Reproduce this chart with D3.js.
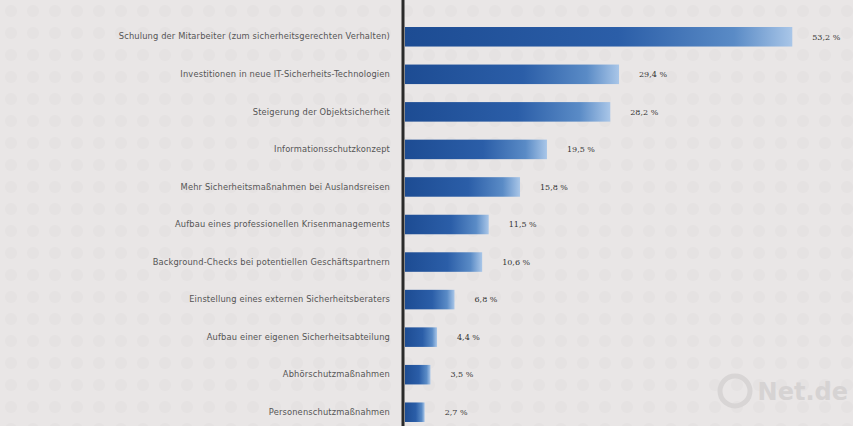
<!DOCTYPE html>
<html><head><meta charset="utf-8">
<script src="https://cdn.jsdelivr.net/npm/d3@7"></script>
<style>html,body{margin:0;padding:0;background:#e8e5e5;}svg{display:block;}</style>
</head><body>
<svg id="chart" width="853" height="426"></svg>
<script>
const categories = [
  "Schulung der Mitarbeiter (zum sicherheitsgerechten Verhalten)",
  "Investitionen in neue IT-Sicherheits-Technologien",
  "Steigerung der Objektsicherheit",
  "Informationsschutzkonzept",
  "Mehr Sicherheitsmaßnahmen bei Auslandsreisen",
  "Aufbau eines professionellen Krisenmanagements",
  "Background-Checks bei potentiellen Geschäftspartnern",
  "Einstellung eines externen Sicherheitsberaters",
  "Aufbau einer eigenen Sicherheitsabteilung",
  "Abhörschutzmaßnahmen",
  "Personenschutzmaßnahmen"
];
const values = [53.2, 29.4, 28.2, 19.5, 15.8, 11.5, 10.6, 6.8, 4.4, 3.5, 2.7];
const valueLabels = ["53,2 %", "29,4 %", "28,2 %", "19,5 %", "15,8 %", "11,5 %", "10,6 %", "6,8 %", "4,4 %", "3,5 %", "2,7 %"];
const watermark = "Net.de";

const svg = d3.select("#chart");
const W = 853, H = 426;

// background with subtle halftone texture
const defs = svg.append("defs");
const pat = defs.append("pattern").attr("id","dots").attr("width",22).attr("height",22)
  .attr("patternUnits","userSpaceOnUse");
pat.append("rect").attr("width",22).attr("height",22).attr("fill","#e9e6e6");
pat.append("circle").attr("cx",11).attr("cy",11).attr("r",6).attr("fill","#e5e2e2");
svg.append("rect").attr("width",W).attr("height",H).attr("fill","url(#dots)");

const grad = defs.append("linearGradient").attr("id","barGrad")
  .attr("x1","0%").attr("x2","100%").attr("y1","0%").attr("y2","0%");
grad.append("stop").attr("offset","0%").attr("stop-color","#1d4c93");
grad.append("stop").attr("offset","55%").attr("stop-color","#2b5ea8");
grad.append("stop").attr("offset","85%").attr("stop-color","#5a8bc6");
grad.append("stop").attr("offset","100%").attr("stop-color","#a9c6e8");

const x = d3.scaleLinear().domain([0, 60]).range([405, 405 + 60 * 7.28]);
const y = d3.scaleBand().domain(categories).range([18, 431]).paddingInner(0.48).paddingOuter(0.24);

const data = categories.map((c, i) => ({c, v: values[i], l: valueLabels[i]}));

svg.append("g").selectAll("rect").data(data).join("rect")
  .attr("x", x(0))
  .attr("y", d => y(d.c))
  .attr("width", d => x(d.v) - x(0))
  .attr("height", y.bandwidth())
  .attr("fill", "url(#barGrad)");

const yAxis = d3.axisLeft(y).tickSize(0).tickPadding(13);
const ag = svg.append("g").attr("transform", `translate(${x(0) - 2},0)`).call(yAxis);
ag.select(".domain").remove();
ag.selectAll("text").attr("font-family", "'DejaVu Sans', sans-serif").attr("font-size", 8.3)
  .attr("letter-spacing", 0.15).attr("fill", "#555");
svg.append("line").attr("x1", x(0) - 2).attr("x2", x(0) - 2).attr("y1", 0).attr("y2", H)
  .attr("stroke", "#2a2a2a").attr("stroke-width", 3);

svg.append("g").selectAll("text").data(data).join("text")
  .attr("x", d => x(d.v) + 20)
  .attr("y", d => y(d.c) + y.bandwidth() / 2)
  .attr("dy", "0.35em")
  .attr("font-family", "'DejaVu Serif', serif")
  .attr("font-size", 8)
  .attr("fill", "#333")
  .text(d => d.l);

svg.append("text").attr("x", 848).attr("y", 400).attr("text-anchor", "end")
  .attr("font-family", "'DejaVu Sans', sans-serif").attr("font-weight", "bold")
  .attr("font-size", 24).attr("fill", "#d6d3d3").text(watermark);
svg.append("circle").attr("cx", 735).attr("cy", 391).attr("r", 15)
  .attr("fill", "none").attr("stroke", "#d8d5d5").attr("stroke-width", 5);
</script>
</body></html>
